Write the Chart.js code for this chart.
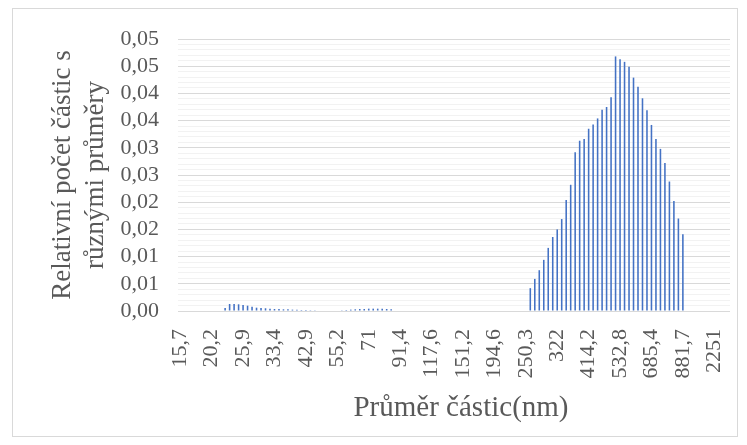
<!DOCTYPE html>
<html>
<head>
<meta charset="utf-8">
<script src="https://cdn.jsdelivr.net/npm/chart.js@4.4.1/dist/chart.umd.min.js"></script>
<style>
  body { margin: 0; background: #fff; }
  #wrap { width: 747px; height: 445px; }
</style>
</head>
<body>
<div id="wrap"><canvas id="sizeChart" width="747" height="445"></canvas></div>
<script>
// particle diameters (nm), one per category
const diameters = [
    '15,7', '16,3', '16,9', '17,5', '18,1', '18,8', '19,5',
    '20,2', '20,9', '21,7', '22,5', '23,3', '24,2', '25,1',
    '25,9', '26,8', '27,8', '28,9', '29,9', '31', '32,1',
    '33,4', '34,6', '35,9', '37,2', '38,6', '40', '41,4',
    '42,9', '44,5', '46,1', '47,8', '49,5', '51,4', '53,2',
    '55,2', '57,2', '59,3', '61,5', '63,7', '66,1', '68,5',
    '71', '73,6', '76,3', '79,1', '82', '85', '88,1',
    '91,4', '94,7', '98,2', '101,8', '105,5', '109,4', '113,4',
    '117,6', '121,9', '126,4', '131', '135,8', '140,8', '145,9',
    '151,2', '156,7', '162,5', '168,4', '174,6', '181', '187,6',
    '194,6', '201,7', '209,1', '216,8', '224,7', '232,9', '241,5',
    '250,3', '259,5', '269', '278,8', '289', '299,6', '310,6',
    '322', '333,8', '346', '358,7', '371,8', '385,4', '399,6',
    '414,2', '429,4', '445,1', '461,4', '478,3', '495,8', '514',
    '532,8', '552,3', '572,5', '593,5', '615,2', '637,8', '661,1',
    '685,4', '710,5', '736,5', '763,5', '791,5', '820,4', '850,5',
    '881,7', '1008', '1152', '1317', '1506', '1722', '1969',
    '2251', '2574', '2942', '3364'
];

// relative number of particles per diameter
const relativeCounts = [
    0, 0, 0, 0, 0, 0, 0, 0, 0, 0,
    0.00055, 0.00129, 0.00129, 0.00123, 0.0011, 0.00098, 0.00079, 0.00061, 0.00055, 0.0005,
    0.00043, 0.00037, 0.00037, 0.00031, 0.00031, 0.00025, 0.00025, 0.00018, 0.00018, 0.00015,
    0.00012, 0, 0, 0, 0, 0,
    0.00012, 0.00018, 0.00025, 0.00031, 0.00037, 0.00037, 0.00043, 0.00043, 0.00043, 0.00043,
    0.00037, 0.00031,
    0, 0, 0, 0, 0, 0, 0, 0, 0, 0, 0, 0, 0, 0, 0, 0, 0, 0, 0, 0, 0, 0, 0, 0, 0, 0, 0, 0, 0,
    0.0001,
    0.0042, 0.0059, 0.0075, 0.0094, 0.0116, 0.0136, 0.0150, 0.0169, 0.0204, 0.0232,
    0.0292, 0.0313, 0.0316, 0.0335, 0.0343, 0.0354, 0.0370, 0.0375, 0.0393, 0.0468,
    0.0463, 0.0458, 0.0449, 0.0429, 0.0412, 0.0391, 0.0369, 0.0342, 0.0316, 0.0298,
    0.0272, 0.0238, 0.0202, 0.0170, 0.0141,
    0, 0, 0, 0, 0, 0, 0, 0, 0, 0
];

// y labels as Excel rounded them (step 0.005, two decimals)
const yTickLabels = ['0,00', '0,01', '0,01', '0,02', '0,02', '0,03', '0,03', '0,04', '0,04', '0,05', '0,05'];

const xTitle = 'Průměr částic(nm)';
const labelEvery = 7;

Chart.defaults.font.family = "'Liberation Serif', 'Times New Roman', serif";
Chart.defaults.color = '#595959';

// white chart area with light border + x title centred like Excel
const frame = {
    id: 'frame',
    beforeDraw(chart) {
        const c = chart.ctx;
        c.save();
        c.fillStyle = '#ffffff';
        c.fillRect(0, 0, chart.width, chart.height);
        c.strokeStyle = '#d9d9d9';
        c.lineWidth = 1;
        c.strokeRect(12.5, 8.5, 725, 428);
        c.restore();
    },
    afterDraw(chart) {
        const c = chart.ctx;
        c.save();
        c.fillStyle = '#595959';
        c.font = "29px 'Liberation Serif', 'Times New Roman', serif";
        c.textAlign = 'center';
        c.textBaseline = 'middle';
        c.fillText(xTitle, 461, 408);
        c.restore();
    }
};

const ctx = document.getElementById('sizeChart');
new Chart(ctx, {
    type: 'bar',
    data: {
        labels: diameters,
        datasets: [{
            data: relativeCounts,
            backgroundColor: '#4472c4',
            borderWidth: 0,
            categoryPercentage: 1,
            barPercentage: 0.35
        }]
    },
    options: {
        responsive: false,
        animation: false,
        layout: { padding: { left: 0, right: 17, top: 39, bottom: 0 } },
        plugins: {
            legend: { display: false },
            tooltip: { enabled: false }
        },
        scales: {
            x: {
                grid: { display: false },
                border: { display: false },
                ticks: {
                    autoSkip: false,
                    maxRotation: 90,
                    minRotation: 90,
                    padding: 10,
                    font: { size: 22 },
                    callback: (v, i) => (i % labelEvery === 0 ? diameters[i] : '')
                },
                afterFit: (scale) => {
                    scale.height = 134;
                    scale.paddingLeft = 0;
                    scale.paddingRight = 0;
                }
            },
            yMinor: {
                position: 'left',
                min: 0,
                max: 0.05,
                grid: { color: '#f2f2f2', drawTicks: false, z: -2 },
                border: { display: false },
                ticks: { display: false, stepSize: 0.001, autoSkip: false },
                afterFit: (scale) => {
                    scale.width = 0;
                    scale.paddingTop = 0;
                    scale.paddingBottom = 0;
                }
            },
            y: {
                position: 'left',
                min: 0,
                max: 0.05,
                grid: { color: '#d9d9d9', drawTicks: false },
                border: { display: false },
                ticks: {
                    stepSize: 0.005,
                    autoSkip: false,
                    padding: 19,
                    font: { size: 22 },
                    callback: (v, i) => yTickLabels[i]
                },
                title: {
                    display: true,
                    text: ['Relativní počet částic s', 'různými průměry'],
                    font: { size: 27 },
                    padding: { top: 47, bottom: 0 }
                },
                afterFit: (scale) => {
                    scale.width = 178;
                    scale.paddingTop = 0;
                    scale.paddingBottom = 0;
                }
            }
        }
    },
    plugins: [frame]
});
</script>
</body>
</html>
